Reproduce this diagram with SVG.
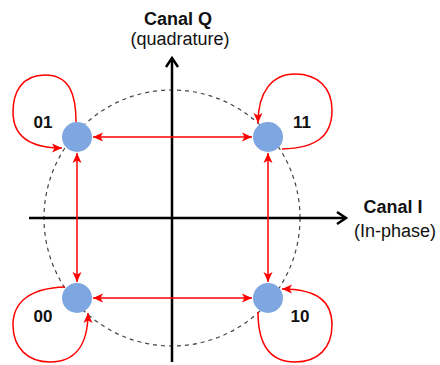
<svg xmlns="http://www.w3.org/2000/svg" width="440" height="365" viewBox="0 0 440 365">
<style>
.t{font-family:"Liberation Sans",Arial,sans-serif;fill:#111;text-anchor:middle}
.b{font-weight:bold}
.axis{stroke:#000;stroke-width:2.5;fill:none}
.red{stroke:#ff0000;stroke-width:1.5;fill:none}
.dot{fill:#7ea6e0}
</style>
<defs>
<marker id="ah" markerUnits="userSpaceOnUse" markerWidth="12" markerHeight="12" viewBox="0 0 12 12" refX="11" refY="6" orient="auto-start-reverse">
<path d="M1,1.5 L11,6 L1,10.5 L3.5,6 z" fill="#ff0000"/>
</marker>
<marker id="ax" markerUnits="userSpaceOnUse" markerWidth="16" markerHeight="16" viewBox="0 0 16 16" refX="13" refY="8" orient="auto">
<path d="M4,2 L13,8 L4,14" fill="none" stroke="#000" stroke-width="2.5"/>
</marker>
</defs>
<circle cx="172" cy="218" r="128" fill="none" stroke="#444" stroke-width="1.2" stroke-dasharray="4 4"/>
<g id="axes">
<line class="axis" x1="29" y1="218" x2="346" y2="218" marker-end="url(#ax)"/>
<line class="axis" x1="172" y1="362" x2="172" y2="58" marker-end="url(#ax)"/>
</g>
<g id="labels">
<text class="t b" x="178" y="25" font-size="18">Canal Q</text>
<text class="t" x="180" y="45" font-size="18">(quadrature)</text>
<text class="t b" x="393" y="213" font-size="18">Canal I</text>
<text class="t" x="395" y="237" font-size="18">(In-phase)</text>
</g>
<g id="connectors">
<line class="red" x1="93" y1="137" x2="252" y2="137" marker-start="url(#ah)" marker-end="url(#ah)"/>
<line class="red" x1="93" y1="298" x2="252" y2="298" marker-start="url(#ah)" marker-end="url(#ah)"/>
<line class="red" x1="77" y1="153" x2="77" y2="282" marker-start="url(#ah)" marker-end="url(#ah)"/>
<line class="red" x1="268" y1="153" x2="268" y2="282" marker-start="url(#ah)" marker-end="url(#ah)"/>
<path class="red" d="M76,122 C76,95 70,75 45,75 C22,75 13,92 13,112 C13,135 28,148 62,148" marker-end="url(#ah)"/>
<path class="red" d="M282,149 C318,148 332,135 332,110 C332,88 318,74 295,74 C272,74 258,92 258,123" marker-end="url(#ah)"/>
<path class="red" d="M65,287 C30,288 13,302 13,325 C13,348 28,362 50,362 C75,362 88,345 88,313" marker-end="url(#ah)"/>
<path class="red" d="M258,312 C258,345 270,362 295,362 C318,362 332,348 332,325 C332,302 318,289 282,289" marker-end="url(#ah)"/>
</g>
<g id="n01"><circle class="dot" cx="77" cy="137" r="15"/><text class="t b" x="43" y="128" font-size="17">01</text></g>
<g id="n11"><circle class="dot" cx="268" cy="137" r="15"/><text class="t b" x="302" y="128" font-size="17">11</text></g>
<g id="n00"><circle class="dot" cx="77" cy="298" r="15"/><text class="t b" x="43" y="322" font-size="17">00</text></g>
<g id="n10"><circle class="dot" cx="268" cy="298" r="15"/><text class="t b" x="300" y="322" font-size="17">10</text></g>
</svg>
